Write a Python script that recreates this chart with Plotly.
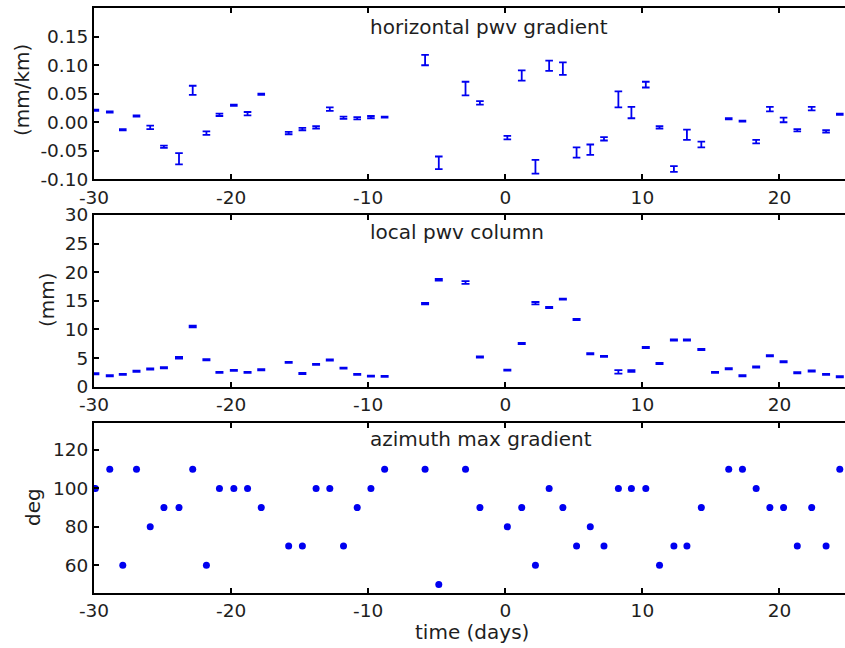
import plotly.graph_objects as go

# Observation times (days relative to the reference epoch)
days = [-29.9, -28.85, -27.9, -26.9, -25.9, -24.9, -23.8, -22.8, -21.8, -20.85,
        -19.8, -18.8, -17.8, -15.8, -14.8, -13.8, -12.8, -11.8, -10.8, -9.8,
        -8.8, -5.85, -4.85, -2.9, -1.85, 0.15, 1.2, 2.2, 3.2, 4.2,
        5.2, 6.2, 7.2, 8.25, 9.2, 10.25, 11.25, 12.3, 13.25, 14.3,
        15.3, 16.3, 17.3, 18.3, 19.3, 20.3, 21.3, 22.35, 23.4, 24.4]

# Horizontal PWV gradient (mm/km) and its uncertainty
gradient = [0.021, 0.018, -0.013, 0.011, -0.009, -0.043, -0.064, 0.056, -0.019, 0.013,
            0.030, 0.015, 0.049, -0.019, -0.012, -0.009, 0.023, 0.008, 0.007, 0.009,
            0.009, 0.109, -0.071, 0.059, 0.034, -0.027, 0.082, -0.078, 0.099, 0.094,
            -0.053, -0.048, -0.029, 0.040, 0.017, 0.066, -0.009, -0.082, -0.022, -0.039,
            None, 0.006, 0.002, -0.034, 0.023, 0.004, -0.014, 0.024, -0.016, 0.014]
gradient_err = [0.001, 0.001, 0.001, 0.001, 0.003, 0.002, 0.010, 0.008, 0.003, 0.002,
                0.001, 0.003, 0.001, 0.002, 0.002, 0.002, 0.003, 0.002, 0.002, 0.002,
                0.001, 0.009, 0.011, 0.012, 0.003, 0.003, 0.009, 0.012, 0.009, 0.011,
                0.009, 0.009, 0.003, 0.014, 0.010, 0.005, 0.002, 0.005, 0.009, 0.005,
                0.0, 0.001, 0.001, 0.003, 0.004, 0.004, 0.002, 0.003, 0.002, 0.001]

# Local PWV column (mm) and its uncertainty
column = [2.27, 1.9, 2.15, 2.7, 3.1, 3.3, 5.05, 10.5, 4.7, 2.5,
          2.85, 2.5, 2.95, 4.25, 2.3, 3.9, 4.65, 3.25, 2.15, 1.85,
          1.8, 14.5, 18.7, 18.2, 5.2, 2.9, 7.55, 14.6, 13.85, 15.3,
          11.75, 5.75, 5.3, 2.6, 2.75, 6.85, 4.05, 8.15, 8.15, 6.5,
          2.5, 3.15, 1.9, 3.45, 5.4, 4.35, 2.45, 2.75, 2.15, 1.75]
column_err = [0.1, 0.1, 0.1, 0.1, 0.1, 0.1, 0.15, 0.15, 0.1, 0.1,
              0.1, 0.1, 0.1, 0.1, 0.1, 0.1, 0.1, 0.1, 0.1, 0.1,
              0.1, 0.12, 0.15, 0.25, 0.1, 0.1, 0.1, 0.2, 0.1, 0.1,
              0.1, 0.1, 0.1, 0.3, 0.15, 0.1, 0.1, 0.1, 0.1, 0.1,
              0.1, 0.1, 0.1, 0.1, 0.1, 0.1, 0.1, 0.1, 0.1, 0.1]

# Azimuth of the maximum gradient (deg)
azimuth = [100, 110, 60, 110, 80, 90, 90, 110, 60, 100,
           100, 100, 90, 70, 70, 100, 100, 70, 90, 100,
           110, 110, 50, 110, 90, 80, 90, 60, 100, 90,
           70, 80, 70, 100, 100, 100, 60, 70, 70, 90,
           None, 110, 110, 100, 90, 90, 70, 90, 70, 110]

x_ticks = [-30, -20, -10, 0, 10, 20]
x_tick_text = ["-30", "-20", "-10", "0", "10", "20"]
grad_ticks = [-0.10, -0.05, 0.0, 0.05, 0.10, 0.15]
grad_tick_text = ["-0.10", "-0.05", "0.00", "0.05", "0.10", "0.15"]
col_ticks = [0, 5, 10, 15, 20, 25, 30]
az_ticks = [60, 80, 100, 120]

BLUE = "#0000f0"
INK = "#1e1e1e"
FONT = "DejaVu Sans"
TICK_SIZE = 18.5
TEXT_SIZE = 20

W, H = 845, 648


def ydom(top_px, bottom_px):
    return [1 - bottom_px / H, 1 - top_px / H]


fig = go.Figure()

fig.add_trace(go.Scatter(
    x=days, y=gradient, mode="markers",
    marker=dict(size=1, color="rgba(0,0,0,0)"),
    error_y=dict(type="data", array=gradient_err, visible=True,
                 color=BLUE, thickness=1.8, width=3.8),
    xaxis="x", yaxis="y", showlegend=False, hoverinfo="x+y"))

fig.add_trace(go.Scatter(
    x=days, y=column, mode="markers",
    marker=dict(size=1, color="rgba(0,0,0,0)"),
    error_y=dict(type="data", array=column_err, visible=True,
                 color=BLUE, thickness=1.8, width=4),
    xaxis="x2", yaxis="y2", showlegend=False, hoverinfo="x+y"))

fig.add_trace(go.Scatter(
    x=days, y=azimuth, mode="markers",
    marker=dict(size=7, color=BLUE, line=dict(width=0)),
    xaxis="x3", yaxis="y3", showlegend=False, hoverinfo="x+y"))

xcommon = dict(domain=[94 / W, 1.0], range=[-30, 24.78],
               tickvals=x_ticks, ticktext=x_tick_text,
               ticks="inside", ticklen=5, tickwidth=1.5, tickcolor="black",
               showline=True, linecolor="black", linewidth=2, mirror="ticks",
               showgrid=False, zeroline=False, automargin=False,
               tickfont=dict(family=FONT, size=TICK_SIZE, color=INK))

ycommon = dict(ticks="inside", ticklen=5, tickwidth=1.5, tickcolor="black",
               showline=True, linecolor="black", linewidth=2, mirror=False,
               showgrid=False, zeroline=False, automargin=False,
               tickfont=dict(family=FONT, size=TICK_SIZE, color=INK))

fig.update_layout(
    width=W, height=H,
    margin=dict(l=0, r=0, t=0, b=0),
    paper_bgcolor="white", plot_bgcolor="white",
    xaxis=dict(xcommon, anchor="y"),
    xaxis2=dict(xcommon, anchor="y2"),
    xaxis3=dict(xcommon, anchor="y3"),
    yaxis=dict(ycommon, anchor="x", domain=ydom(8.2, 179.3), range=[-0.1, 0.2],
               tickvals=grad_ticks, ticktext=grad_tick_text),
    yaxis2=dict(ycommon, anchor="x2", domain=ydom(215, 386.7), range=[0, 30],
                tickvals=col_ticks),
    yaxis3=dict(ycommon, anchor="x3", domain=ydom(422.7, 592.7), range=[45.7, 134.2],
                tickvals=az_ticks),
)

text_font = dict(family=FONT, size=TEXT_SIZE, color=INK)
panel_titles = [("horizontal pwv gradient", "x", 27),
                ("local pwv column", "x2", 232),
                ("azimuth max gradient", "x3", 439)]
for label, xref, ypx in panel_titles:
    fig.add_annotation(text=label, x=-10, xref=xref, xanchor="left",
                       y=1 - ypx / H, yref="paper", yanchor="middle",
                       showarrow=False, font=text_font)

y_labels = [("(mm/km)", 22, 90), ("(mm)", 47, 300), ("deg", 33, 507)]
for label, xpx, ypx in y_labels:
    fig.add_annotation(text=label, x=xpx / W, xref="paper", xanchor="center",
                       y=1 - ypx / H, yref="paper", yanchor="middle",
                       textangle=-90, showarrow=False, font=text_font)

fig.add_annotation(text="time (days)", x=472 / W, xref="paper", xanchor="center",
                   y=1 - 632 / H, yref="paper", yanchor="middle",
                   showarrow=False, font=text_font)

fig.write_html("out.html")
